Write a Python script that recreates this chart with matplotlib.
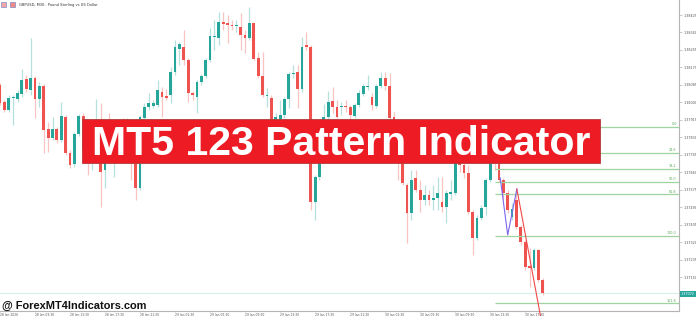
import matplotlib
matplotlib.use('Agg')
import matplotlib.pyplot as plt
from matplotlib.patches import Rectangle

# ---------------- data (GBPUSD M30) ----------------
opens = [1.38084, 1.38002, 1.37963, 1.38021, 1.38016, 1.38041, 1.38114, 1.38060, 1.38118, 1.38016,
         1.38080, 1.37870, 1.37827, 1.37870, 1.37817, 1.37929, 1.37753, 1.37700, 1.37846, 1.37934,
         1.37792, 1.37729, 1.37768, 1.37768, 1.37671, 1.37817, 1.37719, 1.37792, 1.37768, 1.37729,
         1.37768, 1.37768, 1.37583, 1.37924, 1.37977, 1.37982, 1.37987, 1.38050, 1.38031, 1.38036,
         1.38148, 1.38260, 1.38269, 1.38206, 1.38045, 1.38026, 1.38099, 1.38128, 1.38206, 1.38318,
         1.38313, 1.38391, 1.38386, 1.38376, 1.38371, 1.38367, 1.38328, 1.38313, 1.38386, 1.38216,
         1.38128, 1.38031, 1.38021, 1.37817, 1.37914, 1.37938, 1.38016, 1.38138, 1.38148, 1.38065,
         1.38279, 1.38269, 1.37515, 1.37637, 1.37807, 1.37929, 1.38007, 1.37977, 1.37977, 1.37982,
         1.37977, 1.37934, 1.37987, 1.38041, 1.38075, 1.38026, 1.37982, 1.38080, 1.38118, 1.38080,
         1.37929, 1.37817, 1.37744, 1.37598, 1.37462, 1.37632, 1.37573, 1.37525, 1.37549, 1.37525,
         1.37535, 1.37515, 1.37491, 1.37554, 1.37559, 1.37744, 1.37695, 1.37656, 1.37466, 1.37340,
         1.37437, 1.37491, 1.37622, 1.37768, 1.37729, 1.37622, 1.37559, 1.37442, 1.37525, 1.37393,
         1.37320, 1.37204, 1.37194, 1.37282, 1.37136]
closes = [1.37997, 1.37963, 1.38021, 1.38026, 1.38045, 1.38109, 1.38065, 1.38118, 1.38016, 1.38080,
          1.37865, 1.37827, 1.37870, 1.37817, 1.37934, 1.37753, 1.37695, 1.37846, 1.37934, 1.37768,
          1.37719, 1.37768, 1.37817, 1.37661, 1.37768, 1.37768, 1.37792, 1.37744, 1.37729, 1.37768,
          1.37710, 1.37583, 1.37929, 1.37977, 1.37997, 1.37997, 1.38060, 1.38026, 1.38021, 1.38148,
          1.38269, 1.38284, 1.38206, 1.38045, 1.38036, 1.38099, 1.38128, 1.38206, 1.38323, 1.38323,
          1.38391, 1.38381, 1.38376, 1.38371, 1.38376, 1.38328, 1.38313, 1.38386, 1.38211, 1.38128,
          1.38036, 1.38036, 1.37817, 1.37929, 1.37938, 1.38016, 1.38138, 1.38143, 1.38065, 1.38269,
          1.38269, 1.37515, 1.37637, 1.37807, 1.37929, 1.38002, 1.37977, 1.37929, 1.37982, 1.37977,
          1.37938, 1.37987, 1.38045, 1.38080, 1.38080, 1.37987, 1.38080, 1.38118, 1.38080, 1.37924,
          1.37817, 1.37744, 1.37607, 1.37462, 1.37622, 1.37573, 1.37525, 1.37549, 1.37525, 1.37535,
          1.37559, 1.37491, 1.37559, 1.37564, 1.37744, 1.37695, 1.37656, 1.37466, 1.37340, 1.37437,
          1.37486, 1.37622, 1.37768, 1.37729, 1.37622, 1.37559, 1.37476, 1.37481, 1.37393, 1.37320,
          1.37199, 1.37194, 1.37282, 1.37136, 1.37072]
highs = [1.38094, 1.38011, 1.38036, 1.38036, 1.38060, 1.38162, 1.38133, 1.38313, 1.38128, 1.38099,
         1.38089, 1.37904, 1.37929, 1.37880, 1.38002, 1.37938, 1.37768, 1.37856, 1.37943, 1.37948,
         1.37817, 1.37792, 1.38016, 1.37997, 1.37865, 1.37948, 1.37841, 1.37841, 1.37924, 1.37924,
         1.37817, 1.37817, 1.37938, 1.37997, 1.38045, 1.38011, 1.38109, 1.38075, 1.38065, 1.38172,
         1.38303, 1.38294, 1.38352, 1.38216, 1.38055, 1.38109, 1.38138, 1.38216, 1.38362, 1.38401,
         1.38440, 1.38440, 1.38425, 1.38401, 1.38401, 1.38435, 1.38352, 1.38464, 1.38391, 1.38245,
         1.38245, 1.38070, 1.38036, 1.37948, 1.38011, 1.38026, 1.38148, 1.38182, 1.38182, 1.38318,
         1.38342, 1.38279, 1.37646, 1.37817, 1.37992, 1.38055, 1.38075, 1.38011, 1.38002, 1.38011,
         1.37987, 1.37997, 1.38060, 1.38089, 1.38133, 1.38045, 1.38089, 1.38148, 1.38148, 1.38143,
         1.37953, 1.37841, 1.37768, 1.37607, 1.37671, 1.37671, 1.37622, 1.37598, 1.37573, 1.37598,
         1.37637, 1.37637, 1.37573, 1.37622, 1.37768, 1.37768, 1.37719, 1.37695, 1.37476, 1.37452,
         1.37500, 1.37632, 1.37817, 1.37841, 1.37744, 1.37632, 1.37573, 1.37510, 1.37583, 1.37403,
         1.37330, 1.37291, 1.37291, 1.37286, 1.37145]
lows = [1.37987, 1.37953, 1.37953, 1.37890, 1.38002, 1.38026, 1.38050, 1.38036, 1.37924, 1.37977,
        1.37753, 1.37758, 1.37817, 1.37802, 1.37807, 1.37744, 1.37680, 1.37685, 1.37836, 1.37719,
        1.37646, 1.37671, 1.37719, 1.37491, 1.37583, 1.37729, 1.37637, 1.37710, 1.37710, 1.37715,
        1.37622, 1.37525, 1.37573, 1.37914, 1.37963, 1.37972, 1.37977, 1.37929, 1.38011, 1.37997,
        1.38133, 1.38182, 1.38182, 1.38002, 1.38011, 1.37948, 1.38084, 1.38118, 1.38196, 1.38255,
        1.38279, 1.38352, 1.38289, 1.38352, 1.38342, 1.38255, 1.38240, 1.38303, 1.38206, 1.38118,
        1.38026, 1.37977, 1.37768, 1.37768, 1.37890, 1.37924, 1.37972, 1.38118, 1.37972, 1.38050,
        1.38255, 1.37476, 1.37428, 1.37622, 1.37792, 1.37914, 1.37948, 1.37924, 1.37938, 1.37953,
        1.37890, 1.37924, 1.37977, 1.38031, 1.38060, 1.37963, 1.37972, 1.38070, 1.38060, 1.37890,
        1.37768, 1.37622, 1.37598, 1.37316, 1.37428, 1.37564, 1.37466, 1.37500, 1.37500, 1.37476,
        1.37476, 1.37466, 1.37413, 1.37525, 1.37549, 1.37661, 1.37632, 1.37457, 1.37257, 1.37330,
        1.37428, 1.37452, 1.37612, 1.37671, 1.37612, 1.37525, 1.37462, 1.37428, 1.37384, 1.37306,
        1.37184, 1.37101, 1.37184, 1.37126, 1.37063]

time_tick_bars = [0, 8, 16, 24, 32, 40, 48, 56, 64, 72, 80, 88, 96, 104, 112, 120]
time_tick_labels = ["28 Jan 2026", "28 Jan 09:30", "28 Jan 13:30", "28 Jan 17:30", "28 Jan 21:30",
                    "29 Jan 01:30", "29 Jan 05:30", "29 Jan 09:30", "29 Jan 13:30", "29 Jan 17:30",
                    "29 Jan 21:30", "30 Jan 01:30", "30 Jan 05:30", "30 Jan 09:30", "30 Jan 13:30",
                    "30 Jan 17:30"]
price_ticks = [1.37150, 1.37235, 1.37320, 1.37405, 1.37490, 1.37575, 1.37660, 1.37745,
               1.37830, 1.37915, 1.38000, 1.38085, 1.38170, 1.38255, 1.38340, 1.38425]

# 1-2-3 pattern zigzag and projection
zig_x = [114.3, 116.0, 118.1]
zig_y = [1.37632, 1.37355, 1.37578]
proj_x = [118.1, 123.5]
proj_y = [1.37578, 1.36960]

# Fibonacci levels
fib_p0 = 1.37880
fib_p100 = 1.37350
fib_levels = [0.0, 23.6, 38.2, 50.0, 61.8, 100.0, 161.8]
fib_start_bar = 113.1

title_text = "GBPUSD, M30:  Pound Sterling vs US Dollar"
banner_text = "MT5 123 Pattern Indicator"
watermark_text = "@ ForexMT4Indicators.com"

# ---------------- figure ----------------
W, H = 696, 316
fig = plt.figure(figsize=(W / 100, H / 100), dpi=100)
fig.patch.set_facecolor('white')

ax = fig.add_axes([0, 5 / H, 679 / W, 311 / H])
ax.set_facecolor('white')
ax.set_xlim(0.114, 155.14)
ax.set_ylim(1.36985, 1.38498)

BULL = '#26A69A'
BEAR = '#EF5350'
BULL_W = '#b5e0db'
BEAR_W = '#f9c3c1'

for i in range(len(opens)):
    o, c, h, l = opens[i], closes[i], highs[i], lows[i]
    up = c >= o
    ax.vlines(i, l, h, color=BULL_W if up else BEAR_W, lw=0.9, zorder=2)
    lo = min(o, c)
    ht = max(abs(c - o), 0.000012)
    ax.bar(i, ht, bottom=lo, width=0.64, color=BULL if up else BEAR,
           edgecolor='none', zorder=3)

# current price line
ax.axhline(closes[-1], color='#d4efec', lw=0.8, zorder=1)

# fib levels
for lv in fib_levels:
    p = fib_p0 + (fib_p100 - fib_p0) * lv / 100.0
    ax.plot([fib_start_bar, 155.14], [p, p], color='#9fd49f', lw=0.9, zorder=4,
            solid_capstyle='butt')
    ax.text(154.6, p + 0.00003, f"{lv:.1f}", fontsize=2.4, color='#5aa85a',
            ha='right', va='bottom', zorder=5)

# zigzag + projection
ax.plot(zig_x, zig_y, color='#7b68ee', lw=0.8, zorder=5)
ax.plot(proj_x, proj_y, color='#f04848', lw=0.8, zorder=5, clip_on=False)

# axes styling
for s in ['left', 'top']:
    ax.spines[s].set_visible(False)
for s in ['right', 'bottom']:
    ax.spines[s].set_color('#b4b4b4')
    ax.spines[s].set_linewidth(0.8)
ax.yaxis.tick_right()
ax.set_yticks(price_ticks)
ax.set_yticklabels([f"{p:.5f}" for p in price_ticks])
ax.set_xticks(time_tick_bars)
ax.set_xticklabels(time_tick_labels, ha='left')
ax.tick_params(axis='y', labelsize=2.4, colors='#b4b4b4', labelcolor='#555555',
               length=2, width=0.5, pad=1)
ax.tick_params(axis='x', labelsize=2.2, colors='#b4b4b4', labelcolor='#555555',
               length=1, width=0.5, pad=0.2)
for lab in ax.get_xticklabels():
    lab.set_horizontalalignment('left')

# ---------------- overlay ----------------
ov = fig.add_axes([0, 0, 1, 1], zorder=10)
ov.set_xlim(0, W)
ov.set_ylim(H, 0)
ov.axis('off')
ov.patch.set_alpha(0)

# header
ov.add_patch(Rectangle((1, 2), 5, 5, facecolor='#f4a6a6', edgecolor='#5b7fc0', lw=0.4))
ov.add_patch(Rectangle((10, 2), 5, 5, facecolor='#f08a8a', edgecolor='#5b7fc0', lw=0.4))
ov.text(19, 4.6, title_text, fontsize=2.6, color='#333333', va='center', ha='left')

# banner
ov.add_patch(Rectangle((82, 119), 518, 44, facecolor='#ED1C24', edgecolor='#b23a3a', lw=0.6))
bt = ov.text(341.5, 155, banner_text, fontsize=25, color='white', fontweight='bold',
             family='Liberation Sans', ha='center', va='baseline')

# watermark
wm = ov.text(2, 308.5, watermark_text, fontsize=7, color='#111111', fontweight='bold',
             family='Liberation Sans', ha='left', va='baseline')

# current price tag
ov.add_patch(Rectangle((680, 290.5), 16, 6.5, facecolor=BULL, edgecolor='none'))
ov.text(688, 293.9, f"{closes[-1]:.5f}", fontsize=2.4, color='white', ha='center', va='center')

# fit texts to measured widths
r = fig.canvas.get_renderer()
for t, target in [(bt, 500.0), (wm, 144.0)]:
    bb = t.get_window_extent(renderer=r)
    t.set_fontsize(t.get_fontsize() * target / bb.width)

fig.savefig('out.png', dpi=100, facecolor='white')
